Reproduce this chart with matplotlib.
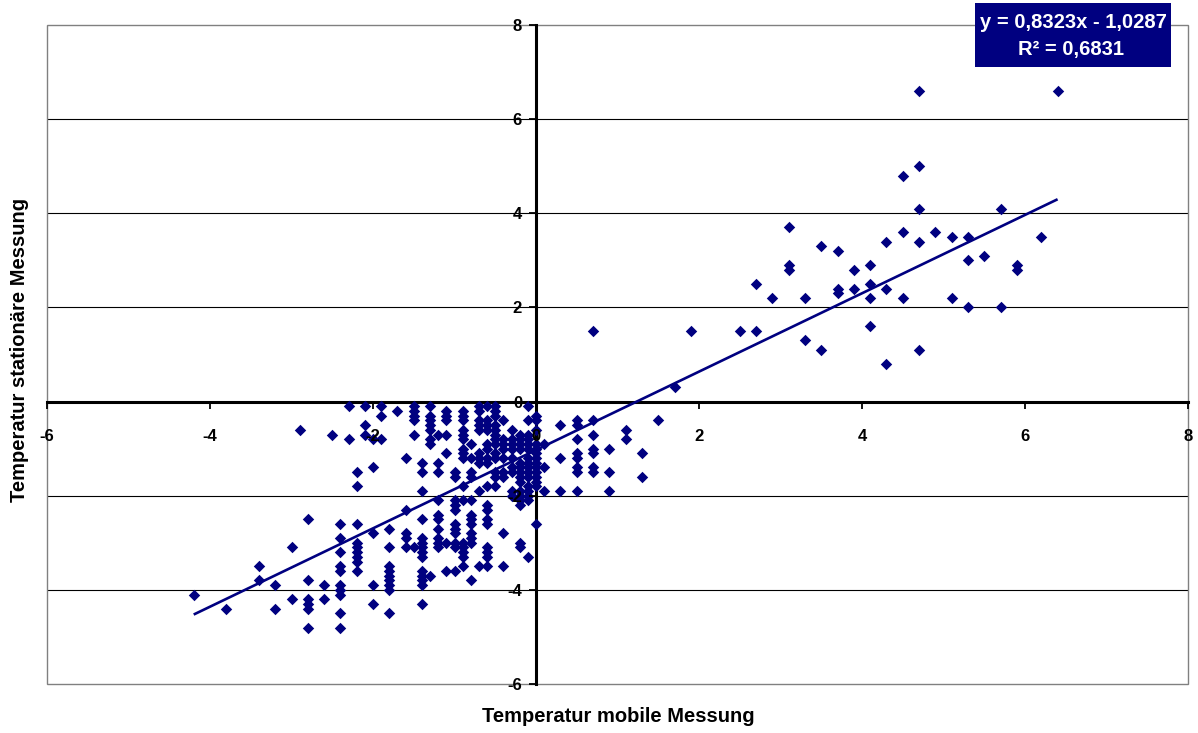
import matplotlib
matplotlib.use('Agg')
import matplotlib.pyplot as plt
from matplotlib.patches import Rectangle
import numpy as np

plt.rcParams['font.family'] = ['Liberation Sans', 'DejaVu Sans']
plt.rcParams['axes.unicode_minus'] = False

# ---- data: (mobile temperature, [stationary temperatures]) per column ----
cold_outer = [
    (-4.2, [-4.1]),
    (-3.8, [-4.4]),
    (-3.4, [-3.5, -3.8]),
    (-3.2, [-3.9, -4.4]),
    (-3.0, [-3.1, -4.2]),
    (-2.9, [-0.6]),
    (-2.8, [-2.5, -3.8, -4.2, -4.3, -4.4, -4.8]),
    (-2.6, [-3.9, -4.2]),
    (-2.5, [-0.7]),
    (-2.4, [-2.6, -2.9, -3.2, -3.5, -3.6, -3.9, -4.0, -4.1, -4.5, -4.8]),
    (-2.3, [-0.1, -0.8]),
    (-2.2, [-1.5, -1.8, -2.6, -3.0, -3.1, -3.2, -3.3, -3.4, -3.6]),
    (-2.1, [-0.1, -0.5, -0.7]),
    (-2.0, [-0.8, -1.4, -2.8, -3.9, -4.3]),
    (-1.9, [-0.1, -0.3, -0.8]),
    (-1.8, [-2.7, -3.1, -3.5, -3.6, -3.7, -3.8, -3.9, -4.0, -4.5]),
    (-1.7, [-0.2]),
    (-1.6, [-1.2, -2.3, -2.8, -2.9, -3.1]),
    (-1.5, [-0.1, -0.2, -0.3, -0.4, -0.7, -3.1]),
    (-1.4, [-1.3, -1.5, -1.9, -2.5, -2.9, -3.0, -3.1, -3.2, -3.3, -3.6, -3.7, -3.8, -3.9, -4.3]),
]

cold_core = [
    (-1.3, [-0.1, -0.3, -0.4, -0.5, -0.6, -0.8, -0.9, -3.7]),
    (-1.2, [-0.7, -1.3, -1.5, -2.1, -2.4, -2.5, -2.7, -2.9, -3.0, -3.1]),
    (-1.1, [-0.2, -0.3, -0.4, -0.7, -1.1, -3.0, -3.6]),
    (-1.0, [-1.5, -1.6, -2.1, -2.2, -2.3, -2.6, -2.7, -2.8, -3.0, -3.1, -3.6]),
    (-0.9, [-0.2, -0.3, -0.4, -0.6, -0.7, -0.8, -1.0, -1.1, -1.2, -1.8, -2.1, -3.0, -3.1, -3.2, -3.3, -3.5]),
    (-0.8, [-0.9, -1.2, -1.5, -1.6, -2.1, -2.4, -2.5, -2.6, -2.8, -2.9, -3.0, -3.8]),
    (-0.7, [-0.1, -0.2, -0.4, -0.5, -0.6, -1.1, -1.2, -1.3, -1.9, -3.5]),
    (-0.6, [-0.1, -0.4, -0.5, -0.6, -0.9, -1.0, -1.2, -1.3, -1.8, -2.2, -2.3, -2.5, -2.6, -3.1, -3.2, -3.3, -3.5]),
    (-0.5, [-0.1, -0.2, -0.3, -0.5, -0.6, -0.7, -0.8, -0.9, -1.1, -1.2, -1.5, -1.6, -1.8]),
    (-0.4, [-0.4, -0.8, -0.9, -1.0, -1.2, -1.5, -1.6, -2.8, -3.5]),
    (-0.3, [-0.6, -0.8, -0.9, -1.0, -1.2, -1.4, -1.5, -1.9, -2.0]),
    (-0.2, [-0.7, -0.8, -0.9, -1.0, -1.3, -1.4, -1.5, -1.6, -1.7, -1.9, -2.0, -2.1, -2.2, -3.0, -3.1]),
    (-0.1, [-0.1, -0.4, -0.7, -0.8, -0.9, -1.0, -1.2, -1.3, -1.4, -1.5, -1.6, -1.8, -1.9, -2.0, -2.1, -3.3]),
    (0.0, [-0.3, -0.4, -0.6, -0.9, -1.0, -1.1, -1.2, -1.3, -1.4, -1.5, -1.6, -1.7, -1.8, -2.6]),
]

mild = [
    (0.1, [-0.9, -1.4, -1.9]),
    (0.3, [-0.5, -1.2, -1.9]),
    (0.5, [-0.4, -0.5, -0.8, -1.1, -1.2, -1.4, -1.5, -1.9]),
    (0.7, [1.5, -0.4, -0.7, -1.0, -1.1, -1.4, -1.5]),
    (0.9, [-1.0, -1.5, -1.9]),
    (1.1, [-0.6, -0.8]),
    (1.3, [-1.1, -1.6]),
    (1.5, [-0.4]),
    (1.7, [0.3]),
    (1.9, [1.5]),
]

warm = [
    (2.5, [1.5]),
    (2.7, [1.5, 2.5]),
    (2.9, [2.2]),
    (3.1, [3.7, 2.9, 2.8]),
    (3.3, [2.2, 1.3]),
    (3.5, [3.3, 1.1]),
    (3.7, [3.2, 2.4, 2.3]),
    (3.9, [2.8, 2.4]),
    (4.1, [2.9, 2.5, 2.2, 1.6]),
    (4.3, [3.4, 2.4, 0.8]),
    (4.5, [4.8, 3.6, 2.2]),
    (4.7, [6.6, 5.0, 4.1, 3.4, 1.1]),
    (4.9, [3.6]),
    (5.1, [3.5, 2.2]),
    (5.3, [3.5, 3.0, 2.0]),
    (5.5, [3.1]),
    (5.7, [4.1, 2.0]),
    (5.9, [2.9, 2.8]),
    (6.2, [3.5]),
    (6.4, [6.6]),
]

slope = 0.8323
intercept = -1.0287
trend_range = [-4.2, 6.4]
eq_text = 'y = 0,8323x - 1,0287'
r2_text = 'R² = 0,6831'
x_label = 'Temperatur mobile Messung'
y_label = 'Temperatur stationäre Messung'
ticks = [-6, -4, -2, 0, 2, 4, 6, 8]

xs, ys = [], []
for group in (cold_outer, cold_core, mild, warm):
    for xv, yl in group:
        for yv in yl:
            xs.append(xv)
            ys.append(yv)

W, H = 1198, 733
fig = plt.figure(figsize=(W / 100, H / 100), dpi=100)
ax = fig.add_axes([47 / W, 1 - 684 / H, 1141 / W, 659 / H])
ax.set_xlim(-6, 8)
ax.set_ylim(-6, 8)
ax.set_xticks(ticks)
ax.set_yticks(ticks)

for yv in ticks[1:-1]:
    if yv != 0:
        ax.axhline(yv, color='black', lw=0.8, zorder=0)

for side in ('top', 'right'):
    ax.spines[side].set_visible(False)
ax.spines['left'].set_position(('data', 0))
ax.spines['bottom'].set_position(('data', 0))
for side in ('left', 'bottom'):
    ax.spines[side].set_linewidth(2.2)
    ax.spines[side].set_color('black')

ax.add_patch(Rectangle((0, 0), 1, 1, transform=ax.transAxes, fill=False,
                       edgecolor='#808080', lw=1.0, clip_on=False, zorder=1))

ax.scatter(xs, ys, marker='D', s=34, color='#000080', linewidths=0, zorder=3)
tx = np.array(trend_range)
ax.plot(tx, slope * tx + intercept, color='#000080', lw=1.9, zorder=4,
        solid_capstyle='butt')

ax.tick_params(axis='both', direction='out', length=5, width=1.3, labelsize=12)
ax.tick_params(axis='x', pad=15)
ax.tick_params(axis='y', pad=5)
for lab in ax.get_xticklabels() + ax.get_yticklabels():
    lab.set_fontweight('bold')
ax.xaxis.set_zorder(5)
ax.yaxis.set_zorder(5)

fig.text(618 / W, 1 - 717 / H, x_label, ha='center', va='center',
         fontsize=14.5, fontweight='bold')
fig.text(20 / W, 1 - 350 / H, y_label, ha='center', va='center',
         rotation=90, fontsize=14.5, fontweight='bold')

# trendline label box
fig.patches.append(Rectangle((975 / W, 1 - 67 / H), 196 / W, 64 / H,
                             transform=fig.transFigure, facecolor='#000080',
                             edgecolor='none', zorder=5))
fig.text(1073 / W, 1 - 22 / H, eq_text, ha='center', va='center',
         color='white', fontsize=14.5, fontweight='bold', zorder=6)
fig.text(1071 / W, 1 - 50 / H, r2_text, ha='center', va='center',
         color='white', fontsize=14.5, fontweight='bold', zorder=6)

fig.savefig('out.png', dpi=100)
